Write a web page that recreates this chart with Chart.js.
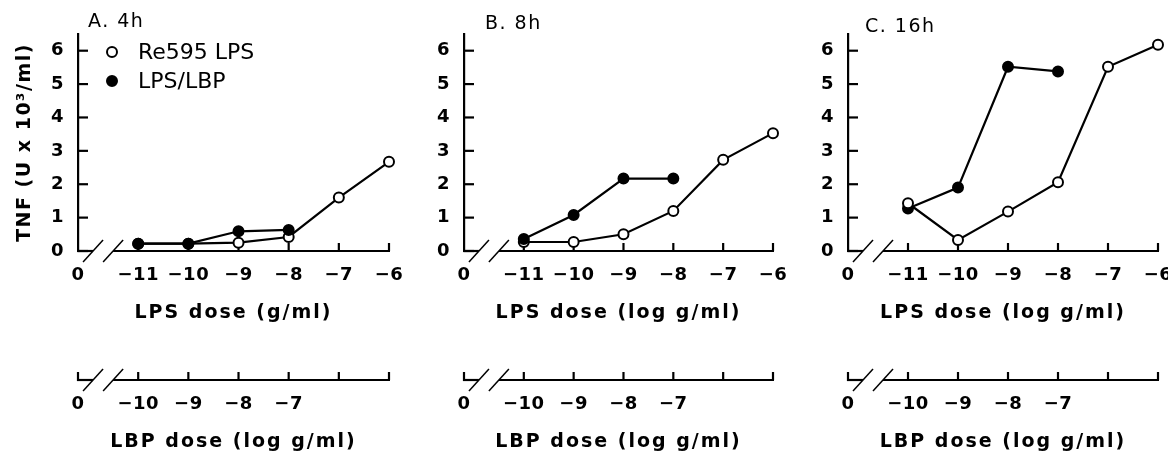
<!DOCTYPE html>
<html>
<head>
<meta charset="utf-8">
<script src="https://cdn.jsdelivr.net/npm/chart.js@4.4.1/dist/chart.umd.min.js"></script>
<style>
  html, body { margin: 0; padding: 0; background: #fff; overflow: hidden; }
  body { width: 1168px; height: 452px; position: relative; }
  canvas { position: absolute; top: 0; }
</style>
</head>
<body>
<canvas id="panelA"></canvas>
<canvas id="panelB"></canvas>
<canvas id="panelC"></canvas>
<script>
// LPS dose (log g/ml) for each measured point
const lpsDose = [-11, -10, -9, -8, -7, -6];

// TNF (U x 10^3/ml)
const re595A = [0.22, 0.22, 0.25, 0.42, 1.6, 2.67];
const lbpA = [0.22, 0.22, 0.59, 0.63];
const re595B = [0.27, 0.27, 0.5, 1.2, 2.73, 3.53];
const lbpB = [0.36, 1.08, 2.17, 2.17];
const re595C = [1.43, 0.33, 1.18, 2.06, 5.52, 6.18];
const lbpC = [1.27, 1.9, 5.52, 5.38];

// axes
const lpsTicks = [-11, -10, -9, -8, -7, -6];
const lpsTickLabels = ["0", "\u221211", "\u221210", "\u22129", "\u22128", "\u22127", "\u22126"];
const lbpTicks = [-10, -9, -8, -7, -6, -5];
const lbpTickLabels = ["0", "\u221210", "\u22129", "\u22128", "\u22127", "", ""];
const yTickLabels = ["0", "1", "2", "3", "4", "5", "6"];

Chart.defaults.font.family = '"DejaVu Sans", sans-serif';
Chart.defaults.color = "#000";

const tickFont = { size: 18, weight: "bold" };
const titleFont = { size: 19, weight: "bold" };

function line(ctx, x1, y1, x2, y2) {
  ctx.beginPath();
  ctx.moveTo(x1, y1);
  ctx.lineTo(x2, y2);
  ctx.stroke();
}

// x axis with the "0 //" break and inward ticks
function brokenAxis(ctx, s, ticks, startTick) {
  const py = s.top;
  const b1 = s.getPixelForValue(s.min + 0.3);
  const b2 = s.getPixelForValue(s.min + 0.7);
  ctx.lineWidth = 2.2;
  line(ctx, s.left - 1, py, b1, py);
  line(ctx, b2, py, s.right + 1, py);
  ticks.forEach(v => {
    const px = s.getPixelForValue(v);
    line(ctx, px, py, px, py - 8);
  });
  if (startTick) line(ctx, s.left, py + 1, s.left, py - 8);
  ctx.lineWidth = 1.5;
  [b1, b2].forEach(bx => line(ctx, bx - 10, py + 11, bx + 10, py - 11));
}

const axisPlugin = {
  id: "axisMarks",
  beforeDatasetsDraw(chart) {
    const { ctx } = chart;
    const { x, x2, y } = chart.scales;
    ctx.save();
    ctx.strokeStyle = "#000";
    ctx.lineWidth = 2.2;
    y.ticks.forEach(t => {
      const py = y.getPixelForValue(t.value);
      const len = Number.isInteger(t.value) ? 10 : 8;
      line(ctx, y.right, py, y.right + len, py);
    });
    brokenAxis(ctx, x, lpsTicks, false);
    brokenAxis(ctx, x2, lbpTicks, true);
    ctx.restore();
  }
};

// wider tracking like the original lettering
const spacingPlugin = {
  id: "spacing",
  beforeDraw(chart) {
    Object.values(chart.scales).forEach(s => {
      if (s._spaced) return;
      s._spaced = true;
      const drawTitle = s.drawTitle, drawLabels = s.drawLabels;
      s.drawTitle = function () {
        this.ctx.save();
        this.ctx.letterSpacing = this.axis === "y" ? "1.5px" : "2px";
        drawTitle.call(this);
        this.ctx.restore();
      };
      s.drawLabels = function (area) {
        this.ctx.save();
        this.ctx.letterSpacing = "0.5px";
        drawLabels.call(this, area);
        this.ctx.restore();
      };
    });
  }
};

// panel letter and the in-plot legend
const notesPlugin = {
  id: "notes",
  afterDraw(chart, args, o) {
    const ctx = chart.ctx, a = chart.chartArea;
    ctx.save();
    ctx.fillStyle = "#000";
    ctx.textBaseline = "middle";
    ctx.letterSpacing = "1.5px";
    ctx.font = '19px "DejaVu Sans"';
    ctx.fillText(o.text, a.left + o.dx, a.top + o.dy);
    if (o.legend) {
      ctx.letterSpacing = "0px";
      ctx.font = '22px "DejaVu Sans"';
      chart.data.datasets.forEach((ds, i) => {
        const cy = a.top + 18 + i * 29;
        ctx.beginPath();
        ctx.arc(a.left + 34, cy, 5, 0, Math.PI * 2);
        ctx.fillStyle = ds.backgroundColor;
        ctx.fill();
        ctx.lineWidth = 2;
        ctx.strokeStyle = ds.borderColor;
        ctx.stroke();
        ctx.fillStyle = "#000";
        ctx.fillText(ds.label, a.left + 60, cy + 1);
      });
    }
    ctx.restore();
  }
};

function toPoints(vals) {
  return vals.map((v, i) => ({ x: lpsDose[i], y: v }));
}

function makePanel(id, left, width, p) {
  const canvas = document.getElementById(id);
  canvas.width = width;
  canvas.height = 470;
  canvas.style.left = left + "px";
  new Chart(canvas, {
    type: "line",
    data: {
      datasets: [
        {
          label: "Re595 LPS", data: toPoints(p.open), order: p.openOnTop ? 0 : 1,
          borderColor: "#000", backgroundColor: "#fff", borderWidth: 2.2,
          pointRadius: 5, pointBorderWidth: 2, pointBackgroundColor: "#fff", pointBorderColor: "#000",
          clip: false
        },
        {
          label: "LPS/LBP", data: toPoints(p.filled), order: p.openOnTop ? 1 : 0,
          borderColor: "#000", backgroundColor: "#000", borderWidth: 2.2,
          pointRadius: 5, pointBorderWidth: 2, pointBackgroundColor: "#000", pointBorderColor: "#000",
          clip: false
        }
      ]
    },
    options: {
      responsive: false,
      animation: false,
      devicePixelRatio: 1,
      layout: { autoPadding: false, padding: { top: 34, right: 30, left: 0, bottom: 0 } },
      plugins: {
        legend: { display: false },
        tooltip: { enabled: false },
        notes: { text: p.title, dx: p.titleDx, dy: p.titleDy, legend: p.legend }
      },
      scales: {
        y: {
          min: 0, max: 6.5,
          grid: { display: false, drawTicks: false },
          border: { display: true, color: "#000", width: 2.2 },
          afterFit: s => { s.width = 78; },
          ticks: {
            stepSize: 0.5, padding: 14, font: tickFont,
            callback: v => Number.isInteger(v) ? yTickLabels[v] : ""
          },
          title: {
            display: p.yTitle, text: "TNF (U x 10\u00b3/ml)",
            font: { size: 19, weight: "bold" }, padding: { top: 14, bottom: 0 }
          }
        },
        x: {
          type: "linear", position: "bottom", weight: 0, min: -12.2, max: -6,
          grid: { display: false, drawTicks: false },
          border: { display: false },
          afterBuildTicks: s => { s.ticks = [s.min].concat(lpsTicks).map(v => ({ value: v })); },
          afterFit: s => { s.height = 129; },
          ticks: { autoSkip: false, maxRotation: 0, padding: 14, font: tickFont, callback: (v, i) => lpsTickLabels[i] },
          title: { display: true, text: p.xTitle, font: titleFont, padding: { top: 0, bottom: 56 } }
        },
        x2: {
          type: "linear", position: "bottom", weight: 1, min: -11.2, max: -5,
          grid: { display: false, drawTicks: false },
          border: { display: false },
          afterBuildTicks: s => { s.ticks = [s.min].concat(lbpTicks).map(v => ({ value: v })); },
          afterFit: s => { s.height = 90; },
          ticks: { autoSkip: false, maxRotation: 0, padding: 14, font: tickFont, callback: (v, i) => lbpTickLabels[i] },
          title: { display: true, text: "LBP dose (log g/ml)", font: titleFont, padding: { top: 0, bottom: 17 } }
        }
      }
    },
    plugins: [axisPlugin, spacingPlugin, notesPlugin]
  });
}

makePanel("panelA", 0, 419, {
  open: re595A, filled: lbpA, openOnTop: false, yTitle: true, legend: true,
  xTitle: "LPS dose (g/ml)", title: "A. 4h", titleDx: 10, titleDy: -12
});
makePanel("panelB", 386, 417, {
  open: re595B, filled: lbpB, openOnTop: false, yTitle: false, legend: false,
  xTitle: "LPS dose (log g/ml)", title: "B. 8h", titleDx: 21, titleDy: -10
});
makePanel("panelC", 770, 418, {
  open: re595C, filled: lbpC, openOnTop: true, yTitle: false, legend: false,
  xTitle: "LPS dose (log g/ml)", title: "C. 16h", titleDx: 17, titleDy: -7
});
</script>
</body>
</html>
